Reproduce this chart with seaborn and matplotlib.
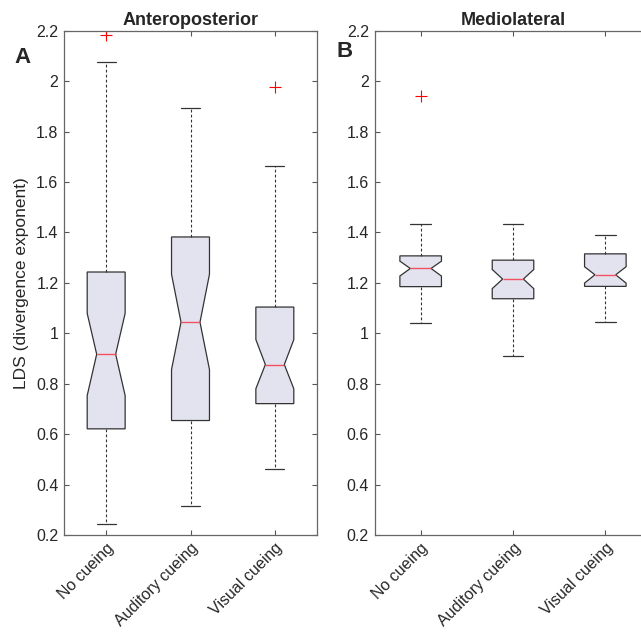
import numpy as np
import matplotlib
matplotlib.use('Agg')
import matplotlib.pyplot as plt
import seaborn as sns
from matplotlib.ticker import FuncFormatter

#data
groups = ['No cueing', 'Auditory cueing', 'Visual cueing']

ap_med = [0.917, 1.044, 0.876]
ap_q1 = [0.621, 0.654, 0.721]
ap_q3 = [1.243, 1.382, 1.104]
ap_whislo = [0.244, 0.315, 0.462]
ap_whishi = [2.074, 1.892, 1.665]
ap_cilo = [0.753, 0.856, 0.780]
ap_cihi = [1.079, 1.234, 0.975]
ap_fliers = [[2.181], [], [1.977]]

ml_med = [1.257, 1.215, 1.232]
ml_q1 = [1.185, 1.137, 1.186]
ml_q3 = [1.307, 1.290, 1.315]
ml_whislo = [1.042, 0.911, 1.045]
ml_whishi = [1.432, 1.434, 1.388]
ml_cilo = [1.227, 1.177, 1.199]
ml_cihi = [1.286, 1.253, 1.264]
ml_fliers = [[1.942], [], []]

sns.set_style('white')
plt.rcParams['font.family'] = ['Liberation Sans', 'DejaVu Sans']


def make_stats(med, q1, q3, lo, hi, cilo, cihi, fliers):
    out = []
    for i, g in enumerate(groups):
        out.append(dict(label=g, med=med[i], q1=q1[i], q3=q3[i],
                        whislo=lo[i], whishi=hi[i], cilo=cilo[i], cihi=cihi[i],
                        fliers=np.array(fliers[i])))
    return out


def draw_panel(ax, stats, title):
    ax.bxp(stats, positions=[1, 2, 3], widths=0.45, shownotches=True, patch_artist=True,
           boxprops=dict(facecolor='#e3e3ef', edgecolor='#333333', linewidth=0.9),
           whiskerprops=dict(color='#333333', linewidth=0.8, linestyle=(0, (2.5, 2))),
           capprops=dict(color='#333333', linewidth=0.9),
           medianprops=dict(color='#f05060', linewidth=1.0),
           flierprops=dict(marker='+', markeredgecolor='red', markersize=8,
                           markeredgewidth=0.8, linestyle='none'))
    ax.set_xlim(0.5, 3.5)
    ax.set_ylim(0.2, 2.2)
    ax.set_yticks(np.arange(0.2, 2.21, 0.2))
    ax.yaxis.set_major_formatter(FuncFormatter(lambda v, p: '%g' % round(v, 2)))
    ax.set_xticks([1, 2, 3])
    ax.set_xticklabels(groups, rotation=45, ha='right', va='top', rotation_mode='anchor')
    ax.tick_params(direction='in', length=3.6, width=0.8, color='#555555',
                   labelcolor='#262626', labelsize=11.5, top=True, right=True,
                   bottom=True, left=True, pad=4)
    for s in ax.spines.values():
        s.set_visible(True)
        s.set_color('#666666')
        s.set_linewidth(0.9)
    ax.set_title(title, fontsize=13, fontweight='bold', pad=4)


W, H = 641, 632
fig = plt.figure(figsize=(W / 100, H / 100), dpi=100)
ax1 = fig.add_axes([64 / W, 1 - 535 / H, 253 / W, (535 - 30.7) / H])
ax2 = fig.add_axes([374.5 / W, 1 - 535 / H, 277 / W, (535 - 30.7) / H])

draw_panel(ax1, make_stats(ap_med, ap_q1, ap_q3, ap_whislo, ap_whishi, ap_cilo, ap_cihi, ap_fliers),
           'Anteroposterior')
draw_panel(ax2, make_stats(ml_med, ml_q1, ml_q3, ml_whislo, ml_whishi, ml_cilo, ml_cihi, ml_fliers),
           'Mediolateral')

ax1.set_ylabel('LDS (divergence exponent)', fontsize=12.5, color='#262626')
ax1.yaxis.set_label_coords(-0.138, 0.5)

fig.text(14 / W, 1 - 63 / H, 'A', fontsize=16, fontweight='bold', va='baseline', ha='left')
fig.text(336.5 / W, 1 - 56.7 / H, 'B', fontsize=16, fontweight='bold', va='baseline', ha='left')

fig.savefig('out.png', dpi=100)
